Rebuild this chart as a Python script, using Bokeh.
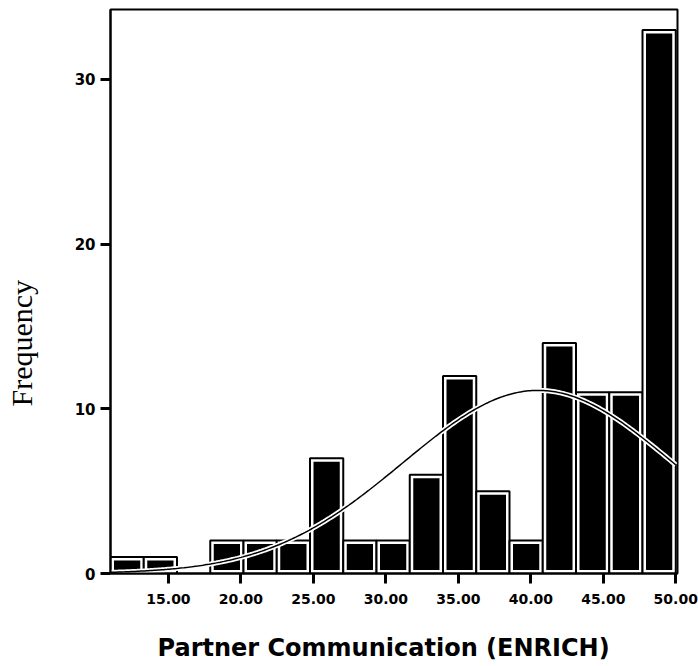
import numpy as np
from bokeh.plotting import figure
from bokeh.models import (Range1d, FixedTicker, NumeralTickFormatter, ColumnDataSource,
                          Title, LinearAxis)
from bokeh.embed import file_html
from bokeh.resources import INLINE

# ---- data ----
bin_low = 11.0
bin_high = 50.0
counts = [1, 1, 0, 2, 2, 2, 7, 2, 2, 6, 12, 5, 2, 14, 11, 11, 33]
x_ticks = [15, 20, 25, 30, 35, 40, 45, 50]
y_ticks = [0, 10, 20, 30]
curve_mean = 40.5
curve_sd = 9.3
x_title = "Partner Communication (ENRICH)"
y_title = "Frequency"

# ---- derived ----
n_bins = len(counts)
edges = np.linspace(bin_low, bin_high, n_bins + 1)
bw = edges[1] - edges[0]
n_total = sum(counts)

X0, X1 = 11.0, 50.12
Y0, Y1 = 0.0, 34.25
W, H = 698, 666
BL, BR, BT, BB = 110, 21, 9, 93
fw, fh = W - BL - BR, H - BT - BB
px_x = fw / (X1 - X0)
px_y = fh / (Y1 - Y0)

p = figure(width=W, height=H, output_backend="svg", toolbar_location=None,
           x_range=Range1d(X0, X1), y_range=Range1d(Y0, Y1),
           min_border_left=BL, min_border_right=BR, min_border_top=BT, min_border_bottom=BB)
p.grid.visible = False
p.outline_line_color = "black"
p.outline_line_width = 2

lefts = [edges[i] for i in range(n_bins) if counts[i] > 0]
rights = [edges[i + 1] for i in range(n_bins) if counts[i] > 0]
tops = [counts[i] for i in range(n_bins) if counts[i] > 0]

src = ColumnDataSource(dict(left=lefts, right=rights, top=tops, bottom=[0] * len(tops)))
p.quad(left="left", right="right", top="top", bottom="bottom", source=src,
       fill_color="white", line_color="black", line_width=2)

dx = 3.5 / px_x
dy = 3.5 / px_y
src_in = ColumnDataSource(dict(left=[l + dx for l in lefts], right=[r - dx for r in rights],
                               top=[t - dy for t in tops], bottom=[dy] * len(tops)))
p.quad(left="left", right="right", top="top", bottom="bottom", source=src_in,
       fill_color="black", line_color=None)

xs = np.linspace(bin_low, bin_high, 300)
ys = n_total * bw / (curve_sd * np.sqrt(2 * np.pi)) * np.exp(-0.5 * ((xs - curve_mean) / curve_sd) ** 2)
p.line(xs, ys, line_color="white", line_width=5)
p.line(xs, ys, line_color="black", line_width=1.5)

for ax in (p.xaxis, p.yaxis):
    ax.axis_line_color = "black"
    ax.axis_line_width = 2
    ax.major_tick_line_width = 3
    ax.major_tick_line_color = "black"
    ax.major_tick_out = 10
    ax.major_tick_in = 0
    ax.minor_tick_out = 0
    ax.minor_tick_in = 0
    ax.major_label_text_font = "DejaVu Sans"
    ax.major_label_text_font_style = "bold"
    ax.major_label_text_color = "black"

p.xaxis.ticker = FixedTicker(ticks=x_ticks)
p.xaxis.formatter = NumeralTickFormatter(format="0.00")
p.xaxis.major_label_standoff = 10
p.xaxis.major_label_text_font_size = "14px"

p.yaxis.ticker = FixedTicker(ticks=y_ticks)
p.yaxis.major_label_standoff = 5
p.yaxis.major_label_text_font_size = "15px"


def spacer(size, at):
    # an invisible axis, used only to reserve room between the tick labels and the title
    return LinearAxis(ticker=FixedTicker(ticks=[at]), major_tick_out=size, major_tick_in=0,
                      minor_tick_out=0, minor_tick_in=0, major_label_standoff=0,
                      major_label_overrides={at: ""}, major_label_text_font_size="0px",
                      axis_line_color=None, major_tick_line_color="white",
                      major_tick_line_width=1, minor_tick_line_color=None)


p.add_layout(spacer(24, X0), "below")
p.add_layout(spacer(33, Y0), "left")

p.add_layout(Title(text=x_title, text_font="DejaVu Sans", text_font_style="bold",
                   text_font_size="24px", text_color="black", align="left",
                   offset=47, standoff=2), "below")
p.add_layout(Title(text=y_title, text_font="Liberation Serif", text_font_style="normal",
                   text_font_size="30px", text_color="black", align="left",
                   offset=167, standoff=2), "left")

open("out.html", "w").write(file_html(p, INLINE))
